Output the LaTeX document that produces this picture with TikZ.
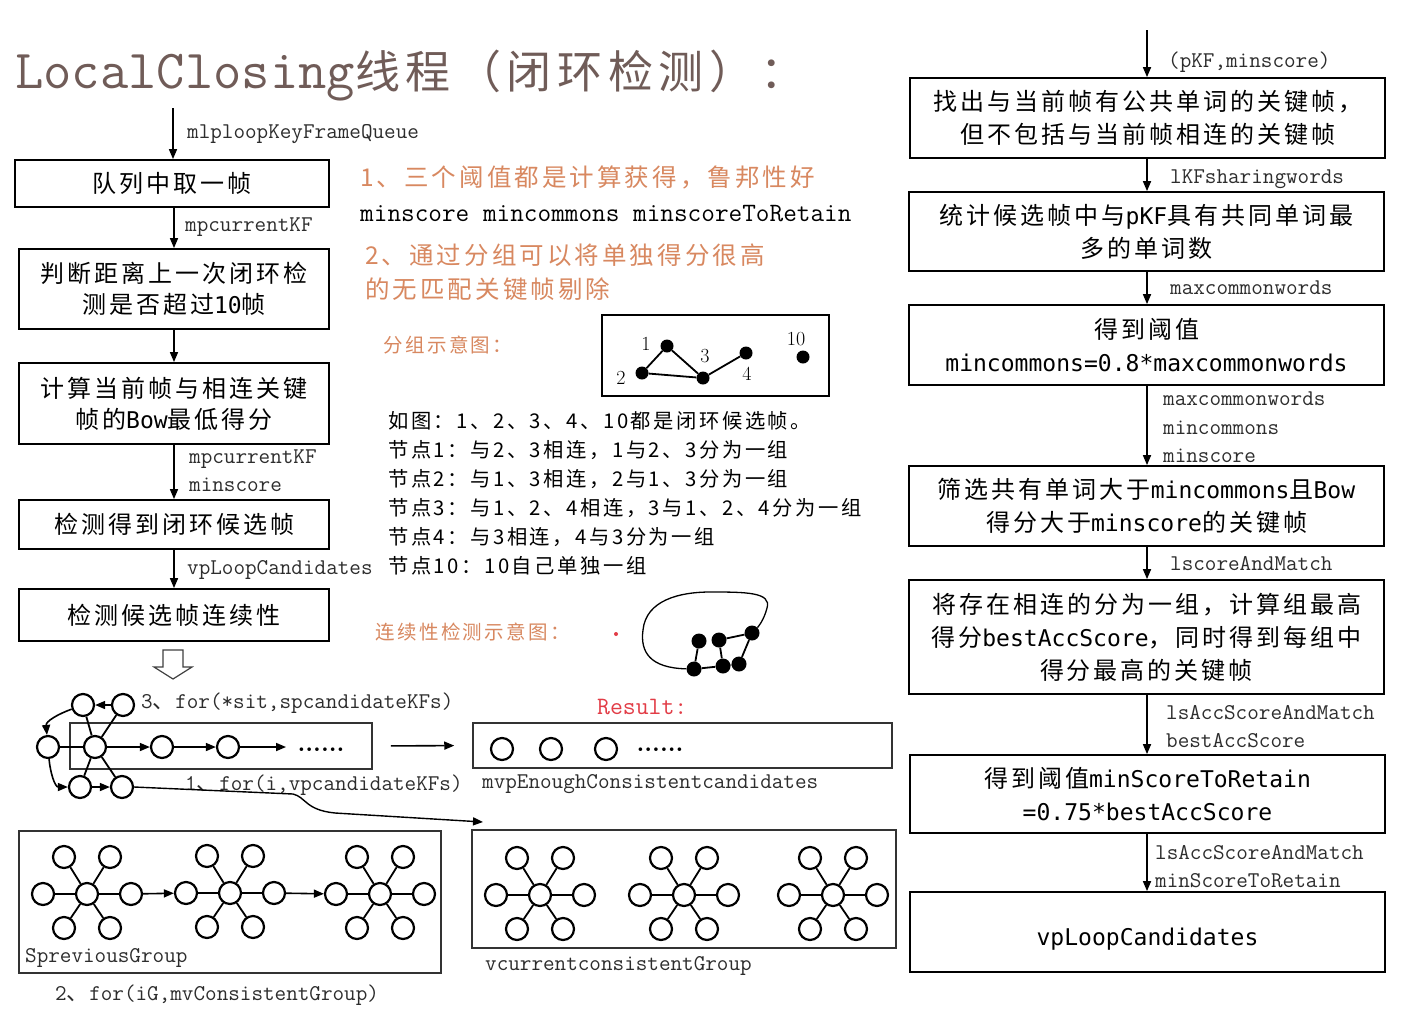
\documentclass[tikz,border=0pt]{standalone}
\usepackage{fontspec}
\usetikzlibrary{arrows.meta,calc}
\newfontfamily\cjk[LetterSpace=12.5]{Noto Sans CJK SC}
\newfontfamily\cjkn{Noto Sans CJK SC}
\newfontfamily\hei[Scale=0.96]{DejaVu Sans Mono}
\newcommand\hlat[1]{{\hei #1}}
\newcommand\dun{{\cjkn 、}}
\definecolor{titlecol}{RGB}{112,92,88}
\definecolor{orng}{RGB}{216,136,96}
\definecolor{labcol}{RGB}{45,45,45}
\definecolor{resred}{RGB}{226,60,70}
\newcommand\stargrp[3]{%
 \begin{scope}[shift={(#2,#3)}]
 \node[circ] (#1c) at (0,0) {};
 \node[circ] (#1l) at (-44,0) {};
 \node[circ] (#1r) at (44,0) {};
 \node[circ] (#1a) at (-23,-37) {};
 \node[circ] (#1b) at (23,-37) {};
 \node[circ] (#1d) at (-23,34) {};
 \node[circ] (#1e) at (23,34) {};
 \end{scope}
 \foreach \k in {l,r,a,b,d,e}{\draw[edge] (#1c) -- (#1\k);}
}
\begin{document}
\begin{tikzpicture}[x=1pt,y=-1pt,
 box/.style={draw, line width=1.8pt, inner sep=0pt, align=center, font=\cjk\fontsize{24}{31}\selectfont},
 rbox/.style={box, minimum width=475pt, font=\cjk\fontsize{24}{33}\selectfont},
 arr/.style={-{Triangle[length=10pt,width=8pt]}, line width=1.6pt},
 lbl/.style={anchor=base west, inner sep=0pt, text=labcol, font=\ttfamily\fontsize{22.5}{27}\selectfont},
 circ/.style={circle, draw, line width=2.2pt, fill=white, minimum size=22pt, inner sep=0pt},
 bdot/.style={circle, fill=black, minimum size=13pt, inner sep=0pt},
 edge/.style={line width=1.8pt},
 thinbox/.style={draw=black!80, line width=1.5pt, inner sep=0pt},
 otext/.style={anchor=west, inner sep=0pt, text=orng, align=left},
 num/.style={inner sep=0pt, font=\rmfamily\fontsize{20}{20}\selectfont},
]
\path[use as bounding box, fill=white] (0,0) rectangle (1415,1021);

% title
\node[anchor=base west, inner sep=0pt, text=titlecol] (title) at (15,88)
 {{\ttfamily\fontsize{55}{60}\selectfont LocalClosing}{\cjk\fontsize{45}{50}\selectfont 线程（闭环检测）：}};

% left column
\node[box, minimum width=314pt, minimum height=47pt] (b1) at (172,183.5) {队列中取一帧};
\node[box, minimum width=310pt, minimum height=80pt] (b2) at (174,289) {判断距离上一次闭环检\\测是否超过\hlat{10}帧};
\node[box, minimum width=310pt, minimum height=81pt] (b3) at (174,403.5) {计算当前帧与相连关键\\帧的\hlat{Bow}最低得分};
\node[box, minimum width=310pt, minimum height=49pt] (b4) at (174,524.5) {检测得到闭环候选帧};
\node[box, minimum width=310pt, minimum height=52pt] (b5) at (174,615) {检测候选帧连续性};

\coordinate (in1) at (173,108);
\draw[arr] (in1) -- (in1 |- b1.north);
\draw[arr] (b1.south -| b2.north) -- (b2.north);
\draw[arr] (b2.south) -- (b3.north);
\draw[arr] (b3.south) -- (b4.north);
\draw[arr] (b4.south) -- (b5.north);

\node[lbl] (l1) at (187,138) {mlploopKeyFrameQueue};
\node[lbl] (l2) at (185,231) {mpcurrentKF};
\node[lbl] (l3) at (189,463) {mpcurrentKF};
\node[lbl] (l4) at (189,491) {minscore};
\node[lbl] (l5) at (187,574) {vpLoopCandidates};

% hollow arrow
\draw[line width=1.2pt, draw=black!75] (163,650) -- (183,650) -- (183,667) -- (192,667) -- (173,679) -- (154,667) -- (163,667) -- cycle;

% middle texts
\node[otext, font=\cjk\fontsize{24.5}{30}\selectfont] (o1) at (360,177) {1、三个阈值都是计算获得，鲁邦性好};
\node[anchor=base west, inner sep=0pt, font=\ttfamily\fontsize{26.5}{30}\selectfont] (thr) at (360,221) {minscore mincommons minscoreToRetain};
\node[otext, font=\cjk\fontsize{24.5}{34}\selectfont] (o2) at (365,272) {2、通过分组可以将单独得分很高\\的无匹配关键帧剔除};
\node[otext, font=\cjk\fontsize{19.5}{24}\selectfont] (o3) at (383,345) {分组示意图：};
\node[otext, font=\cjk\fontsize{19.5}{24}\selectfont] (o4) at (375,632) {连续性检测示意图：};

% grouping sketch
\node[draw, line width=1.8pt, minimum width=227pt, minimum height=81pt, inner sep=0pt] (gbox) at (715.5,355.5) {};
\node[bdot] (n1) at (667,346) {};
\node[bdot] (n2) at (642,373) {};
\node[bdot] (n3) at (703,378) {};
\node[bdot] (n4) at (746,353) {};
\node[bdot] (n10) at (803,357) {};
\draw[edge] (n1) -- (n2);
\draw[edge] (n1) -- (n3);
\draw[edge] (n2) -- (n3);
\draw[edge] (n3) -- (n4);
\node[num] (t1) at (646,344) {1};
\node[num] (t2) at (621,378) {2};
\node[num] (t3) at (705,356) {3};
\node[num] (t4) at (747,374) {4};
\node[num] (t10) at (796,339) {10};

\node[anchor=west, inner sep=0pt, align=left, font=\cjk\fontsize{20.3}{29}\selectfont] (desc) at (388,493.5)
 {如图：1、2、3、4、10都是闭环候选帧。\\
  节点1：与2、3相连，1与2、3分为一组\\
  节点2：与1、3相连，2与1、3分为一组\\
  节点3：与1、2、4相连，3与1、2、4分为一组\\
  节点4：与3相连，4与3分为一组\\
  节点10：10自己单独一组};

% continuity sketch
\fill[resred] (616,634) circle (2pt);
\node[bdot, minimum size=15pt] (ca) at (699,641) {};
\node[bdot, minimum size=15pt] (cb) at (719,640) {};
\node[bdot, minimum size=15pt] (cc) at (752,633) {};
\node[bdot, minimum size=15pt] (cd) at (694,669) {};
\node[bdot, minimum size=15pt] (ce) at (723,666) {};
\node[bdot, minimum size=15pt] (cf) at (739,664) {};
\draw[edge] (ca) -- (cd);
\draw[edge] (cb) -- (ce);
\draw[edge] (cb) -- (cc);
\draw[edge] (cc) -- (cf);
\draw[edge] (cd) -- (ce);
\draw[edge] (ce) -- (cf);
\draw[line width=1.3pt] (cd) .. controls (650,668) and (640,652) .. (643,630) .. controls (646,600) and (680,592) .. (710,592) .. controls (745,592) and (772,592) .. (767,608) .. controls (764,620) and (758,627) .. (cc);

% loop cluster
\node[thinbox, minimum width=302pt, minimum height=46pt] (inbox) at (221,746) {};
\node[circ] (A) at (83,705) {};
\node[circ] (B) at (123,705) {};
\node[circ] (C) at (48,747) {};
\node[circ] (D) at (95,747) {};
\node[circ] (E) at (162,747) {};
\node[circ] (H) at (228,747) {};
\node[circ] (F) at (80,787) {};
\node[circ] (G) at (122,787) {};
\coordinate (hend) at (286,747);
\draw[edge] (C) -- (D);
\draw[edge] (D) -- (A);
\draw[edge] (D) -- (B);
\draw[edge] (D) -- (F);
\draw[edge] (D) -- (G);
\draw[arr] (B) -- (A);
\draw[arr] (A) to[out=200,in=95] (C);
\draw[arr] (C) to[out=-85,in=180] (F);
\draw[arr] (F) -- (G);
\draw[arr] (D) -- (E);
\draw[arr] (E) -- (H);
\draw[arr] (H) -- (hend);
\node[anchor=base, inner sep=0pt, font=\rmfamily\bfseries\fontsize{25}{25}\selectfont] (dots1) at (321,751) {......};

\node[lbl] (lf3) at (141,708) {3\dun for(*sit,spcandidateKFs)};
\node[lbl] (lf1) at (185,790) {1\dun for(i,vpcandidateKFs)};

% result
\node[thinbox, minimum width=419pt, minimum height=45pt] (resbox) at (682.5,745.5) {};
\draw[arr, shorten <=18pt, shorten >=18pt] (inbox.east) -- (resbox.west);
\node[circ] (r1) at (502,749) {};
\node[circ] (r2) at (551,749) {};
\node[circ] (r3) at (606,749) {};
\node[anchor=base, inner sep=0pt, font=\rmfamily\bfseries\fontsize{25}{25}\selectfont] (dots2) at (660,751) {......};
\node[anchor=base west, inner sep=0pt, text=resred, font=\ttfamily\fontsize{25}{30}\selectfont] (restxt) at (597,714) {Result:};
\node[lbl] (lres) at (482,788) {mvpEnoughConsistentcandidates};

% group boxes
\node[thinbox, minimum width=422pt, minimum height=142pt] (prevbox) at (230,902) {};
\node[thinbox, minimum width=424pt, minimum height=118pt] (curbox) at (684,889) {};
\stargrp{p1}{87}{894}
\stargrp{p2}{230}{893}
\stargrp{p3}{380}{894}
\draw[arr] (p1r) -- (p2l);
\draw[arr] (p2r) -- (p3l);
\stargrp{q1}{540}{895}
\stargrp{q2}{684}{895}
\stargrp{q3}{833}{895}
\coordinate (gend) at (483,822);
\draw[arr, line width=1.4pt] (G.east) -- (293,794) .. controls (306,797) and (305,810) .. (335,813) -- (gend);
\node[lbl] (lprev) at (25,962) {SpreviousGroup};
\node[lbl] (lcur) at (485,970) {vcurrentconsistentGroup};
\node[lbl] (lfor2) at (55,1000) {2\dun for(iG,mvConsistentGroup)};

% right column
\node[rbox, minimum height=80pt] (R1) at (1147.5,118) {找出与当前帧有公共单词的关键帧，\\但不包括与当前帧相连的关键帧};
\node[rbox, minimum height=79pt] (R2) at (1146.5,231.5) {统计候选帧中与\hlat{pKF}具有共同单词最\\多的单词数};
\node[rbox, minimum height=80pt] (R3) at (1146.5,345) {得到阈值\\\hlat{mincommons=0.8*maxcommonwords}};
\node[rbox, minimum height=80pt] (R4) at (1146.5,506) {筛选共有单词大于\hlat{mincommons}且\hlat{Bow}\\得分大于\hlat{minscore}的关键帧};
\node[rbox, minimum height=114pt] (R5) at (1146.5,637) {将存在相连的分为一组，计算组最高\\得分\hlat{bestAccScore}，同时得到每组中\\得分最高的关键帧};
\node[rbox, minimum height=78pt] (R6) at (1147.5,794) {得到阈值\hlat{minScoreToRetain}\\\hlat{=0.75*bestAccScore}};
\node[rbox, minimum height=80pt] (R7) at (1147.5,932) {\rule{0pt}{31pt}\hlat{vpLoopCandidates}};

\coordinate (in2) at (1147,30);
\draw[arr] (in2) -- (in2 |- R1.north);
\draw[arr] (R1.south -| in2) -- (R2.north -| in2);
\draw[arr] (R2.south -| in2) -- (R3.north -| in2);
\draw[arr] (R3.south -| in2) -- (R4.north -| in2);
\draw[arr] (R4.south -| in2) -- (R5.north -| in2);
\draw[arr] (R5.south -| in2) -- (R6.north -| in2);
\draw[arr] (R6.south -| in2) -- (R7.north -| in2);

\node[lbl] (rl0) at (1168,67) {(pKF,minscore)};
\node[lbl] (rl1) at (1170,183) {lKFsharingwords};
\node[lbl] (rl2) at (1170,294) {maxcommonwords};
\node[lbl] (rl3) at (1163,405) {maxcommonwords};
\node[lbl] (rl4) at (1163,434) {mincommons};
\node[lbl] (rl5) at (1163,462) {minscore};
\node[lbl] (rl6) at (1170,570) {lscoreAndMatch};
\node[lbl] (rl7) at (1166,719) {lsAccScoreAndMatch};
\node[lbl] (rl8) at (1166,747) {bestAccScore};
\node[lbl] (rl9) at (1155,859) {lsAccScoreAndMatch};
\node[lbl] (rl10) at (1155,887) {minScoreToRetain};
\end{tikzpicture}
\end{document}
